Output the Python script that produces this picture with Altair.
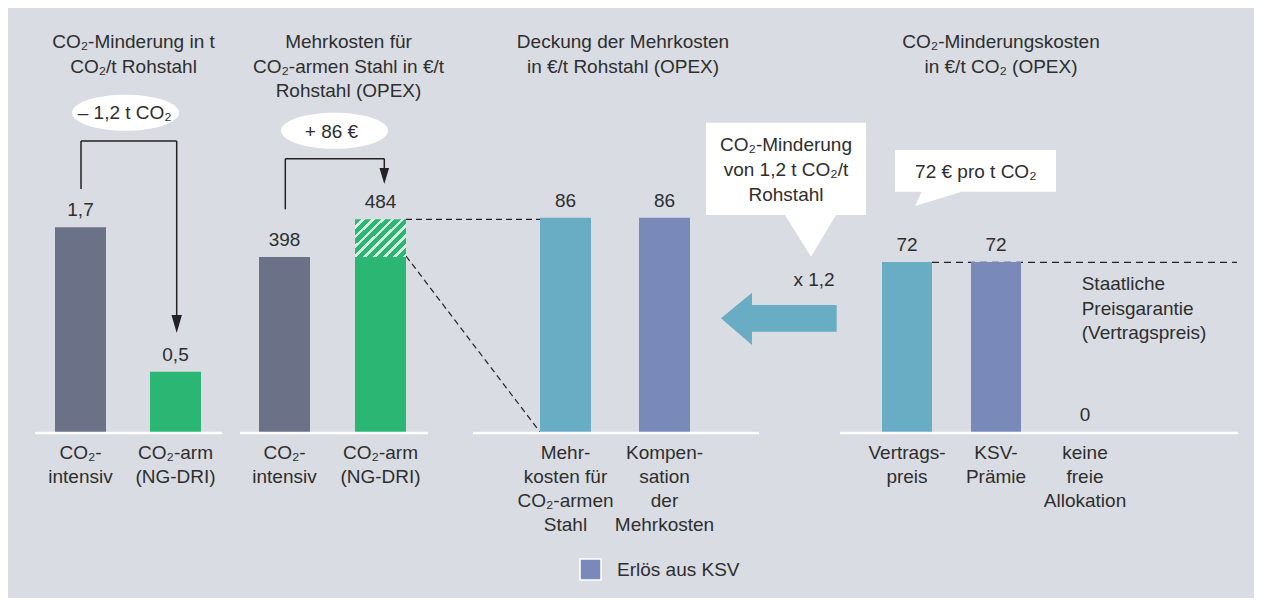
import altair as alt

# ---------------- data ----------------
p1_categories = ["CO₂-\nintensiv", "CO₂-arm\n(NG-DRI)"]
p1_groups = ["CO₂-intensiv", "CO₂-arm"]
p1_values = [1.7, 0.5]

p2_categories = ["CO₂-\nintensiv", "CO₂-arm\n(NG-DRI)"]
p2_groups = ["CO₂-intensiv", "CO₂-arm"]
p2_values = [398, 484]

p3_categories = ["Mehr-\nkosten für\nCO₂-armen\nStahl", "Kompen-\nsation\nder\nMehrkosten"]
p3_groups = ["Mehrkosten", "Erlös aus KSV"]
p3_values = [86, 86]

p4_categories = ["Vertrags-\npreis", "KSV-\nPrämie", "keine\nfreie\nAllokation"]
p4_groups = ["Mehrkosten", "Erlös aus KSV", "Erlös aus KSV"]
p4_values = [72, 72, 0]

titles = [
    "CO₂-Minderung in t\nCO₂/t Rohstahl",
    "Mehrkosten für\nCO₂-armen Stahl in €/t\nRohstahl (OPEX)",
    "Deckung der Mehrkosten\nin €/t Rohstahl (OPEX)",
    "CO₂-Minderungskosten\nin €/t CO₂ (OPEX)",
]
note_reduction = "– 1,2 t CO₂"
note_extra = "+ 86 €"
note_callout = "CO₂-Minderung\nvon 1,2 t CO₂/t\nRohstahl"
note_factor = "x 1,2"
note_price = "72 € pro t CO₂"
note_guarantee = "Staatliche\nPreisgarantie\n(Vertragspreis)"

color_domain = ["CO₂-intensiv", "CO₂-arm", "Mehrkosten", "Erlös aus KSV"]
legend_values = ["Erlös aus KSV"]

# ---------------- style ----------------
FONT = "Liberation Sans"
FS = 19
TXT = "#2e2e2e"
BG = "#d9dce3"
GRAY = "#6b7186"
GREEN = "#2bb673"
CYAN = "#68adc3"
BLUE = "#7889ba"
STRIPE = "#d6efe0"
LINE = "#222222"
color_range = [GRAY, GREEN, CYAN, BLUE]

W, H = 1246, 590
OFF = 8


def P(v):
    return v - OFF


BASE_Y = 432

color_enc = alt.Color(
    "grp:N",
    scale=alt.Scale(domain=color_domain, range=color_range),
    legend=alt.Legend(
        values=legend_values, orient="none", legendX=P(579), legendY=P(558),
        title=None, symbolType="square", symbolSize=441, symbolStrokeColor="white",
        symbolStrokeWidth=1.5, symbolOpacity=1, labelFont=FONT, labelFontSize=FS,
        labelColor=TXT, labelOffset=15, padding=0,
    ),
)

dummy = alt.Data(values=[{"t": ""}])


def panel(cats, vals, groups, x_range, y_top, bar_w=51, solid=None):
    rows = []
    for i, (c, v, g) in enumerate(zip(cats, vals, groups)):
        rows.append({"cat": c, "value": v, "grp": g,
                     "solid": (solid[i] if solid else v)})
    base = alt.Chart(alt.Data(values=rows))
    x = alt.X("cat:N", sort=cats, axis=None,
              scale=alt.Scale(domain=cats, range=[P(x_range[0]), P(x_range[1])],
                              paddingInner=0, paddingOuter=0))
    ysc = alt.Scale(domain=[0, max(vals)], range=[P(BASE_Y), P(y_top)], nice=False, zero=True)
    bars = base.mark_bar(size=bar_w).encode(
        x=x, y=alt.Y("solid:Q", scale=ysc, axis=None), color=color_enc)
    layers = [bars]
    if solid:
        stops = []
        n = 9
        for i in range(n):
            a, b, c = i / n, (i + 0.62) / n, (i + 1) / n
            stops += [{"offset": a, "color": GREEN}, {"offset": b, "color": GREEN},
                      {"offset": b, "color": STRIPE}, {"offset": c, "color": STRIPE}]
        grad = {"gradient": "linear", "x1": 0, "y1": 0, "x2": 1.12, "y2": 0.84, "stops": stops}
        hatch = base.transform_filter("datum.value > datum.solid").mark_bar(
            size=bar_w, fill=grad).encode(
            x=x, y=alt.Y("solid:Q", scale=ysc, axis=None), y2="value:Q")
        layers.append(hatch)
    vlabels = base.transform_calculate(
        lbl="replace(toString(datum.value), '.', ',')").mark_text(
        baseline="alphabetic", dy=-11, font=FONT, fontSize=FS, color=TXT).encode(
        x=x, y=alt.Y("value:Q", scale=ysc, axis=None), text="lbl:N")
    clabels = base.mark_text(
        baseline="alphabetic", font=FONT, fontSize=FS, color=TXT,
        lineBreak="\n", lineHeight=24).encode(
        x=x, y=alt.value(P(458.5)), text="cat:N")
    layers += [vlabels, clabels]
    return alt.layer(*layers)


def text_block(s, x, y, align="center", lh=24.5):
    return alt.Chart(alt.Data(values=[{"t": s}])).mark_text(
        align=align, baseline="alphabetic", font=FONT, fontSize=FS, color=TXT,
        lineBreak="\n", lineHeight=lh).encode(
        x=alt.value(P(x)), y=alt.value(P(y)), text="t:N")


def seg(x1, y1, x2, y2, color=LINE, width=1.5, dash=None):
    kw = dict(color=color, strokeWidth=width)
    if dash:
        kw["strokeDash"] = dash
    return alt.Chart(dummy).mark_rule(**kw).encode(
        x=alt.value(P(x1)), y=alt.value(P(y1)), x2=alt.value(P(x2)), y2=alt.value(P(y2)))


def shape(points, cx, cy, s, color):
    path = "".join(("M" if i == 0 else "L") + f"{(px - cx) / s:.4f},{(py - cy) / s:.4f}"
                   for i, (px, py) in enumerate(points)) + "Z"
    return alt.Chart(dummy).mark_point(
        shape=path, size=(2 * s) ** 2, filled=True, color=color, opacity=1, strokeWidth=0).encode(
        x=alt.value(P(cx)), y=alt.value(P(cy)))


def ellipse(cx, cy, rx, ry, color="white"):
    r = ry / rx
    k = 0.5523
    path = (f"M-1,0C-1,{-k*r:.4f} {-k:.4f},{-r:.4f} 0,{-r:.4f}"
            f"C{k:.4f},{-r:.4f} 1,{-k*r:.4f} 1,0"
            f"C1,{k*r:.4f} {k:.4f},{r:.4f} 0,{r:.4f}"
            f"C{-k:.4f},{r:.4f} -1,{k*r:.4f} -1,0Z")
    return alt.Chart(dummy).mark_point(
        shape=path, size=(2 * rx) ** 2, filled=True, color=color, opacity=1, strokeWidth=0).encode(
        x=alt.value(P(cx)), y=alt.value(P(cy)))


p2_solid = [min(v, p2_values[0]) for v in p2_values]

layers = []
# dashed guide lines (behind bars)
layers += [
    seg(406, 219.3, 540, 219.3, dash=[6, 4], width=1.2),
    seg(406, 256, 540, 432, dash=[6, 4], width=1.2),
    seg(932, 262.3, 1237, 262.3, dash=[7, 5], width=1.2),
]
# panels
layers += [
    panel(p1_categories, p1_values, p1_groups, (33, 223), 227.3),
    panel(p2_categories, p2_values, p2_groups, (236.5, 428.5), 219.3, solid=p2_solid),
    panel(p3_categories, p3_values, p3_groups, (516, 714), 217.7),
    panel(p4_categories, p4_values, p4_groups, (862.5, 1129.5), 262, bar_w=50),
]
# baselines
for a, b in [(35, 222), (240, 428), (473, 759), (840, 1238)]:
    layers.append(seg(a, 433, b, 433, color="white", width=2.5))
# titles
for t, cx in zip(titles, [133.5, 348.5, 623, 1001]):
    layers.append(text_block(t, cx, 48.3))
# brackets with arrows
layers += [
    seg(81, 189, 81, 141), seg(81, 141, 176.7, 141), seg(176.7, 141, 176.7, 318),
    shape([(171.5, 315), (181.9, 315), (176.7, 333)], 176.7, 324, 10, LINE),
    seg(285.3, 209.3, 285.3, 158.7), seg(285.3, 158.7, 384.3, 158.7), seg(384.3, 158.7, 384.3, 170),
    shape([(379.5, 168), (389.1, 168), (384.3, 184)], 384.3, 176, 10, LINE),
    ellipse(125.5, 112.7, 53.5, 18),
    ellipse(334.5, 130.7, 53.5, 18),
    text_block(note_reduction, 124.7, 119),
    text_block(note_extra, 331.5, 137.7),
]
# callouts and big arrow
layers += [
    shape([(706, 122.7), (866, 122.7), (866, 215), (836, 215), (811, 256.7), (785, 215), (706, 215)],
          786, 190, 100, "white"),
    text_block(note_callout, 786, 151, lh=25),
    text_block(note_factor, 814, 286),
    shape([(721, 318.3), (752, 292.7), (752, 305), (836.7, 305), (836.7, 331.7), (752, 331.7), (752, 345)],
          779, 318.3, 50, CYAN),
    shape([(895, 150), (1056, 150), (1056, 191.7), (961.7, 191.7), (915, 206), (921.7, 191.7), (895, 191.7)],
          975, 178, 100, "white"),
    text_block(note_price, 975.8, 178.3),
    text_block(note_guarantee, 1081.7, 290, align="left"),
]

chart = alt.layer(*layers).resolve_scale(
    x="independent", y="independent"
).properties(
    width=W, height=H, padding=0,
    autosize=alt.AutoSizeParams(type="none"),
).configure(background=BG).configure_view(stroke=None)

chart.save("out.html", embed_options={"renderer": "svg", "actions": False})
